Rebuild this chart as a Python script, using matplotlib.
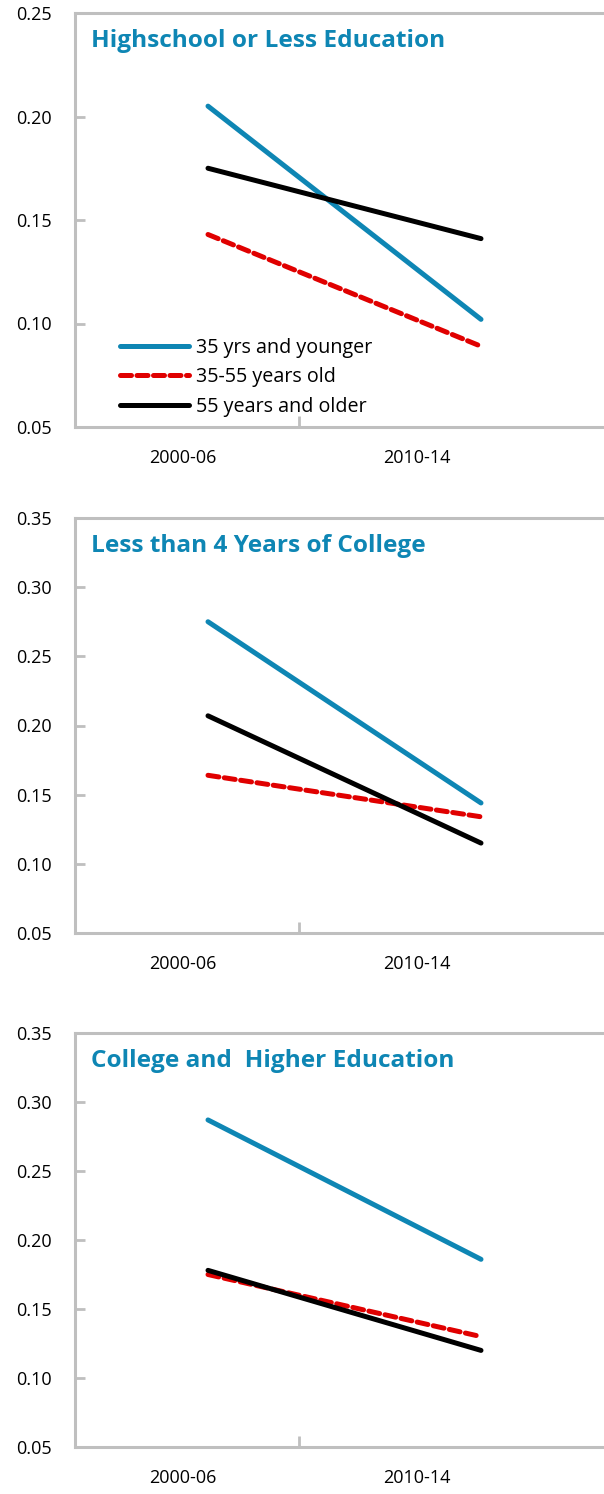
import numpy as np
import matplotlib
matplotlib.use("Agg")
import matplotlib.pyplot as plt

plt.rcParams['font.family'] = ['Open Sans', 'DejaVu Sans']

periods = ['2000-06', '2010-14']
groups = ['35 yrs and younger', '35-55 years old', '55 years and older']
titles = ['Highschool or Less Education',
          'Less than 4 Years of College',
          'College and  Higher Education']

# rows: panel, columns: age group, values for the two periods
hs_less = [[0.205, 0.102], [0.143, 0.089], [0.175, 0.141]]
some_college = [[0.275, 0.144], [0.164, 0.134], [0.207, 0.115]]
college_plus = [[0.287, 0.186], [0.175, 0.130], [0.178, 0.120]]
panels = [hs_less, some_college, college_plus]

y_tops = [0.25, 0.35, 0.35]

colors = ['#0e86b4', '#e00000', '#000000']
styles = ['-', (0, (2.2, 1.1)), '-']
title_color = '#0e86b4'
spine_color = '#bfbfbf'

W, H = 604, 1494
fig = plt.figure(figsize=(W / 100, H / 100), dpi=100)

# axes boxes in pixels: (top, bottom)
boxes = [(13, 427), (518, 933), (1033, 1447)]
left_px, width_px = 75, 540
x0_px, x1_px = 208, 481
unit = x1_px - x0_px
xlim = ((left_px - x0_px) / unit, (left_px + width_px - x0_px) / unit)
label_pos = [(183 - x0_px) / unit, (417 - x0_px) / unit]
mid_tick = (299 - x0_px) / unit

x = np.arange(len(periods))

for k, (data, top_val, title, (top, bot)) in enumerate(zip(panels, y_tops, titles, boxes)):
    ax = fig.add_axes([left_px / W, 1 - bot / H, width_px / W, (bot - top) / H])
    for vals, c, ls, name in zip(data, colors, styles, groups):
        ax.plot(x, vals, color=c, linestyle=ls, linewidth=3.6,
                solid_capstyle='round', dash_capstyle='round', label=name)
    ax.set_xlim(*xlim)
    ax.set_ylim(0.05, top_val)
    ax.set_yticks(np.arange(0.05, top_val + 0.001, 0.05))
    ax.yaxis.set_major_formatter(matplotlib.ticker.FormatStrFormatter('%.2f'))
    ax.set_xticks(label_pos, periods)
    ax.set_xticks([mid_tick], minor=True)
    ax.tick_params(axis='x', which='major', length=0, pad=16, labelsize=13)
    ax.tick_params(axis='x', which='minor', direction='in', length=8, width=2, color=spine_color)
    ax.tick_params(axis='y', direction='in', length=7, width=2, color=spine_color,
                   pad=16.5, labelsize=13)
    for s in ['left', 'top', 'bottom']:
        ax.spines[s].set_color(spine_color)
        ax.spines[s].set_linewidth(2.2)
    ax.spines['right'].set_visible(False)
    ax.text(16 / width_px, 1 - 34 / (bot - top), title, transform=ax.transAxes,
            fontsize=17.6, fontweight='bold', color=title_color, va='baseline')
    if k == 0:
        ax.legend(loc='lower left', bbox_to_anchor=(0.062, -0.005), frameon=False,
                  fontsize=14.2, handlelength=3.5, handletextpad=0.35,
                  labelspacing=0.5, borderaxespad=0.2)

fig.savefig('out.png', dpi=100)
